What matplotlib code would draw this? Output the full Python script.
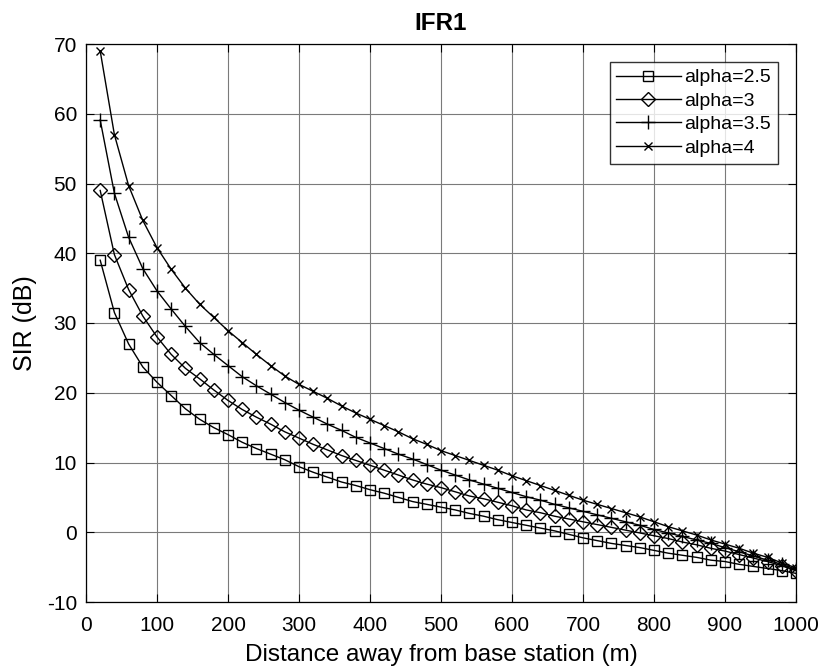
import matplotlib
matplotlib.use("Agg")
import matplotlib.pyplot as plt

plt.rcParams['font.family'] = ['Liberation Sans', 'DejaVu Sans']
plt.rcParams['axes.unicode_minus'] = False

distance = list(range(20, 1001, 20))

sir_a25 = [39.0, 31.5, 27.0, 23.7, 21.5, 19.6, 17.7, 16.2, 15.0, 14.0,
           12.9, 12.0, 11.2, 10.4, 9.4, 8.6, 7.9, 7.2, 6.7, 6.1,
           5.6, 5.0, 4.4, 4.0, 3.6, 3.2, 2.7, 2.3, 1.8, 1.4,
           1.0, 0.6, 0.2, -0.3, -0.8, -1.2, -1.6, -1.9, -2.2, -2.6,
           -3.0, -3.3, -3.6, -4.0, -4.2, -4.6, -4.9, -5.2, -5.5, -5.9]
sir_a30 = [49.0, 39.8, 34.8, 31.0, 28.0, 25.5, 23.5, 22.0, 20.4, 18.9,
           17.6, 16.5, 15.5, 14.4, 13.5, 12.6, 11.8, 11.0, 10.3, 9.6,
           8.9, 8.2, 7.5, 6.9, 6.4, 5.8, 5.2, 4.8, 4.3, 3.8,
           3.2, 2.8, 2.3, 1.9, 1.5, 1.1, 0.7, 0.3, -0.1, -0.5,
           -0.9, -1.4, -1.8, -2.3, -2.7, -3.2, -3.7, -4.2, -4.8, -5.5]
sir_a35 = [59.1, 48.6, 42.3, 37.8, 34.6, 32.0, 29.5, 27.2, 25.5, 23.9,
           22.3, 21.0, 19.8, 18.6, 17.5, 16.5, 15.5, 14.6, 13.6, 12.8,
           12.0, 11.2, 10.5, 9.7, 8.9, 8.2, 7.5, 6.9, 6.3, 5.7,
           5.1, 4.6, 4.0, 3.5, 3.0, 2.5, 2.0, 1.5, 1.0, 0.4,
           -0.1, -0.6, -1.1, -1.6, -2.2, -2.8, -3.4, -4.0, -4.6, -5.3]
sir_a40 = [69.0, 57.0, 49.7, 44.7, 40.8, 37.7, 35.0, 32.7, 30.8, 28.9,
           27.2, 25.5, 23.9, 22.4, 21.2, 20.2, 19.2, 18.1, 17.1, 16.2,
           15.3, 14.4, 13.4, 12.6, 11.7, 11.0, 10.3, 9.6, 8.9, 8.1,
           7.4, 6.7, 6.0, 5.3, 4.6, 4.0, 3.4, 2.8, 2.2, 1.5,
           0.8, 0.2, -0.4, -1.1, -1.7, -2.3, -3.0, -3.6, -4.4, -5.1]

series_labels = ['alpha=2.5', 'alpha=3', 'alpha=3.5', 'alpha=4']
x_ticks = [0, 100, 200, 300, 400, 500, 600, 700, 800, 900, 1000]
y_ticks = [-10, 0, 10, 20, 30, 40, 50, 60, 70]

fig = plt.figure(figsize=(8.23, 6.72), dpi=100)
ax = fig.add_axes([86/823, 1-602/672, 710/823, 558/672])

styles = [dict(marker='s', markersize=7, mfc='none', mew=1.0),
          dict(marker='D', markersize=7.5, mfc='none', mew=1.0),
          dict(marker='+', markersize=10, mew=1.0),
          dict(marker='x', markersize=6, mew=1.0)]
for ys, lab, st in zip([sir_a25, sir_a30, sir_a35, sir_a40], series_labels, styles):
    ax.plot(distance, ys, color='black', lw=1.0, mec='black', label=lab, **st)

ax.set_xlim(0, 1000)
ax.set_ylim(-10, 70)
ax.set_xticks(x_ticks)
ax.set_yticks(y_ticks)
ax.grid(True, color='#7a7a7a', lw=0.8)
ax.set_axisbelow(True)
ax.tick_params(direction='in', top=True, right=True, labelsize=15, length=6, width=0.8)
ax.tick_params(axis='x', pad=10)
ax.tick_params(axis='y', pad=6.5)
for s in ax.spines.values():
    s.set_linewidth(0.9)
ax.set_xlabel('Distance away from base station (m)', fontsize=17.5, va='center')
ax.xaxis.set_label_coords(0.5, (602-655)/558)
ax.set_ylabel('SIR (dB)', fontsize=18, va='center')
ax.yaxis.set_label_coords((25-86)/710, 0.5)
ax.set_title('IFR1', fontsize=17.5, fontweight='bold', y=1+(44-23)/558, va='center', pad=0)

leg = ax.legend(loc='upper right', bbox_to_anchor=((778-86)/710, 1-(62-44)/558),
                borderaxespad=0, fontsize=14, frameon=True, fancybox=False,
                edgecolor='black', handlelength=3.3, labelspacing=0.3,
                borderpad=0.35, handletextpad=0.2)
leg.get_frame().set_linewidth(1.0)

fig.savefig('out.png', dpi=100)
